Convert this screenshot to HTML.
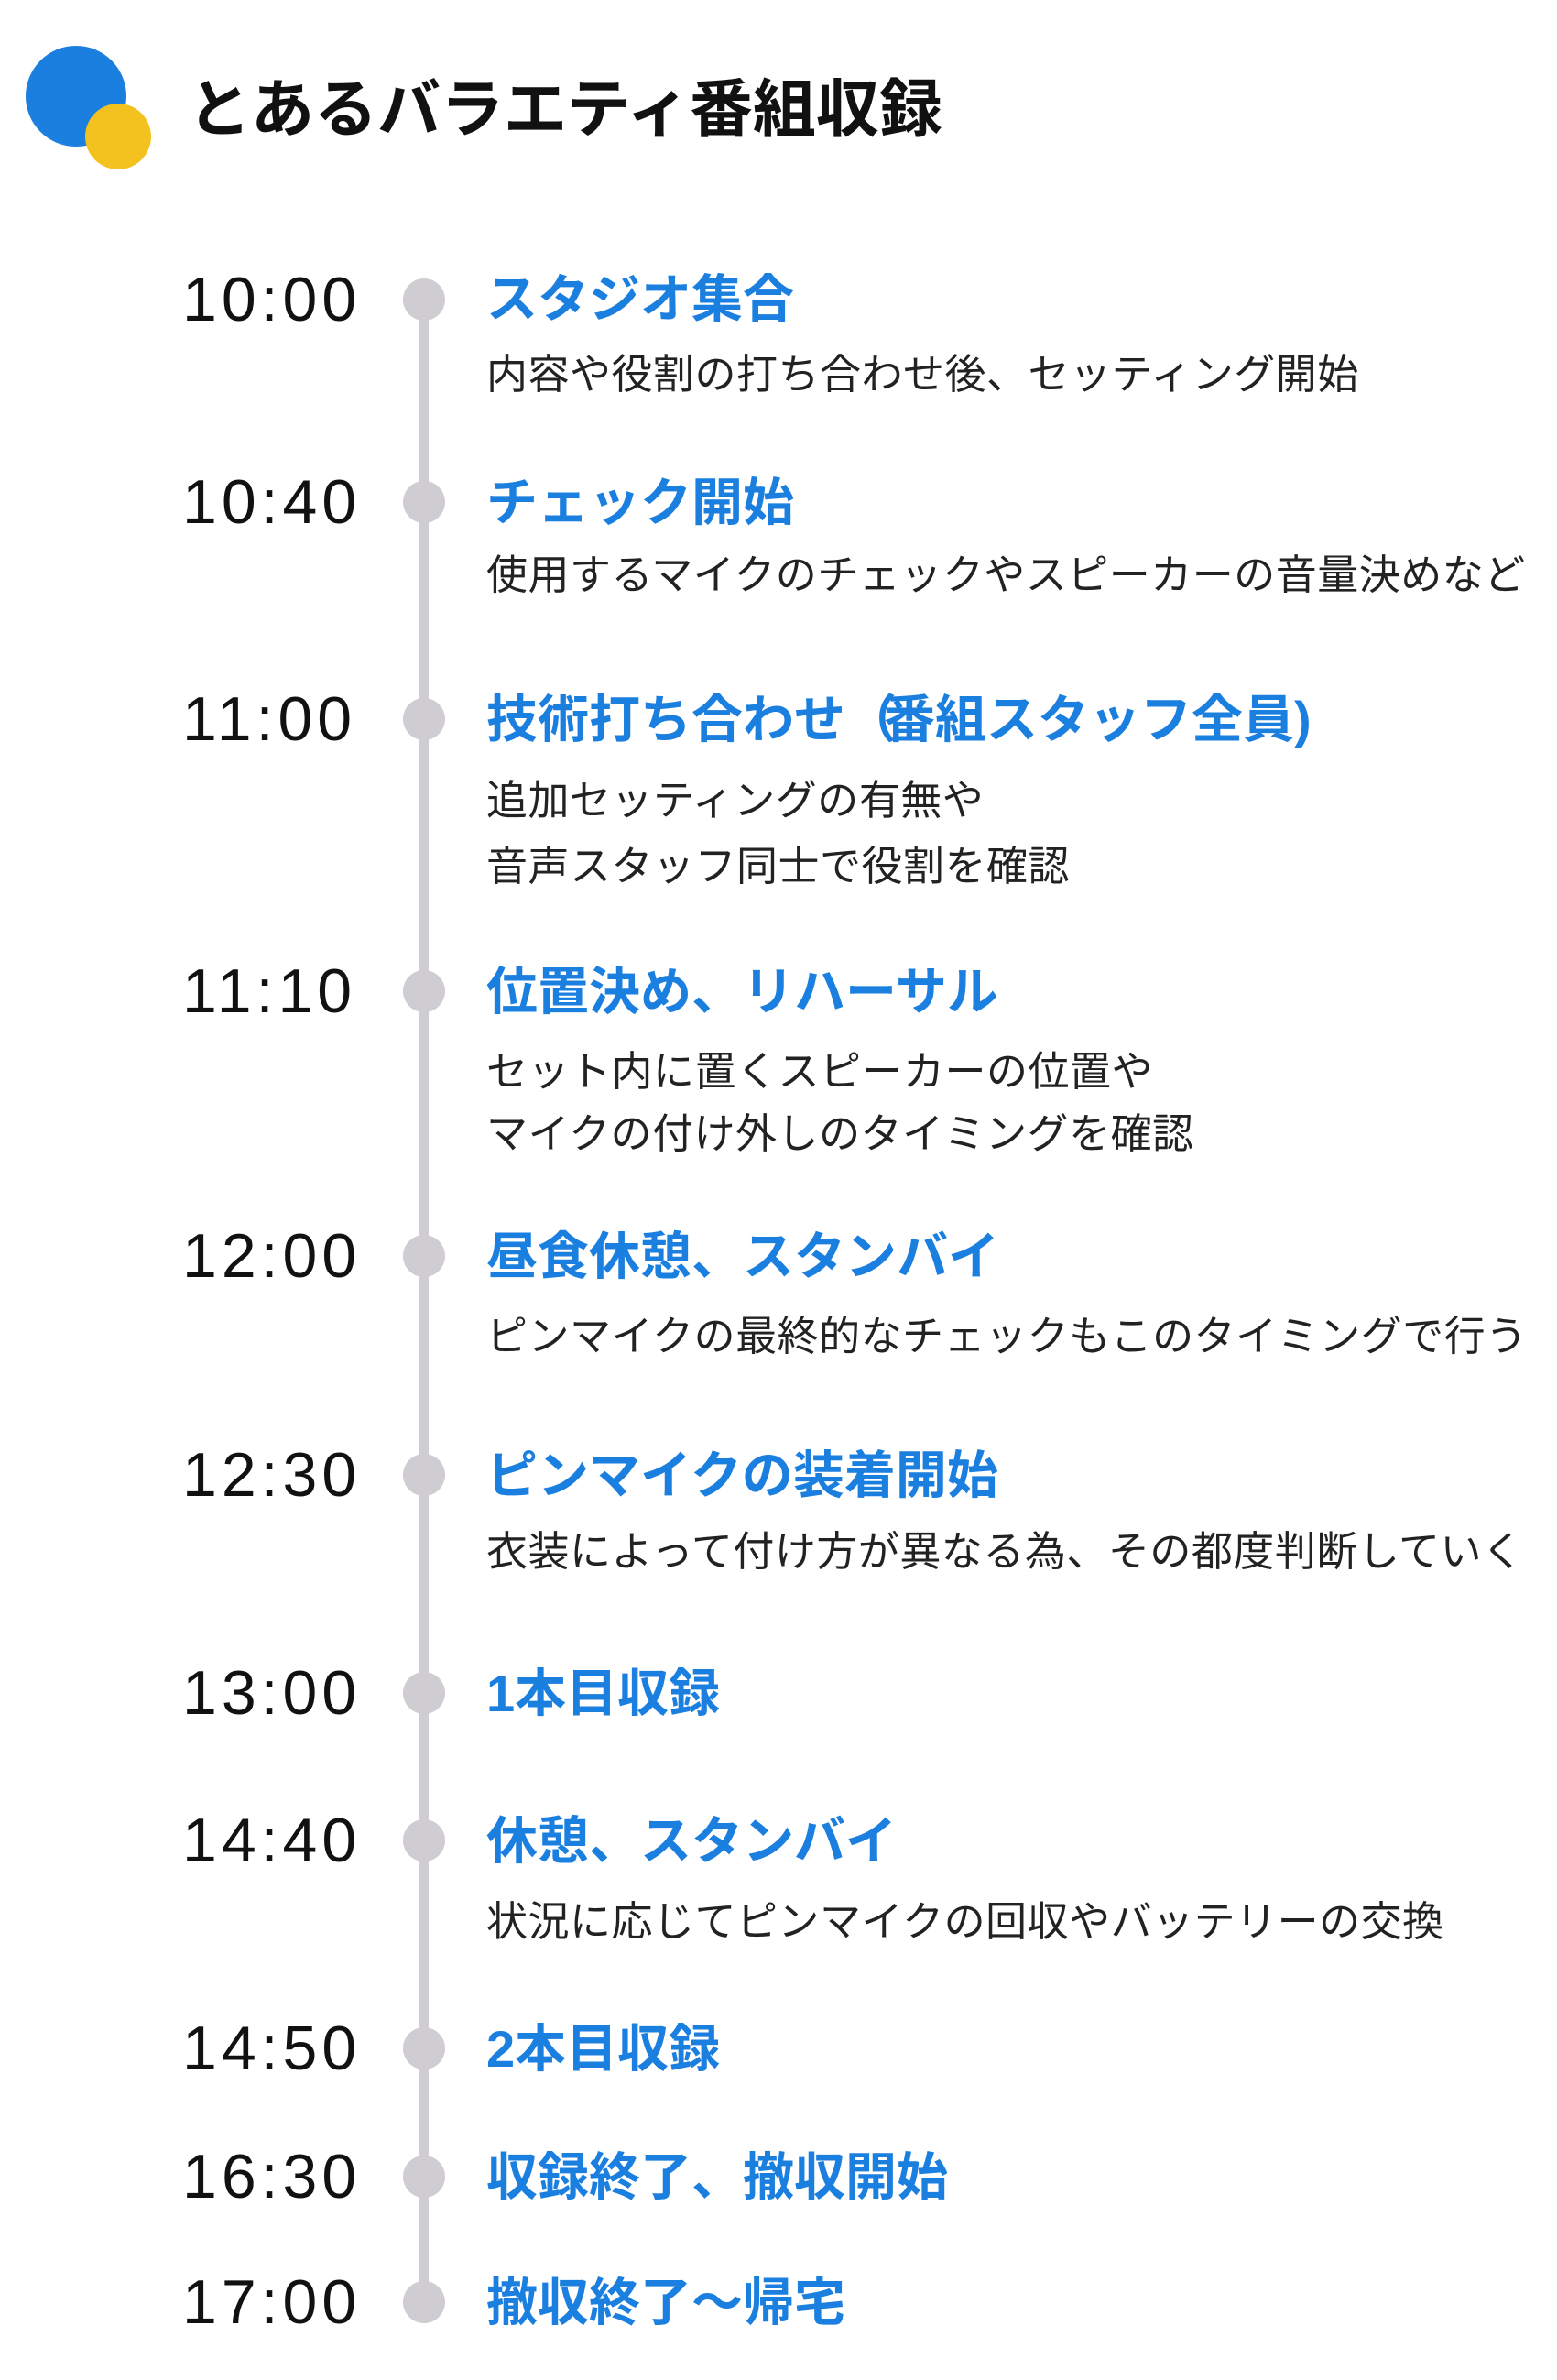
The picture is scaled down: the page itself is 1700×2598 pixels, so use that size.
<!DOCTYPE html>
<html><head><meta charset="utf-8"><style>
body{margin:0;width:1700px;height:2598px;background:#fff;position:relative;overflow:hidden;font-family:"Liberation Sans","Noto Sans CJK JP",sans-serif}
.a{position:absolute;white-space:nowrap}
.t{left:199px;font-size:68px;letter-spacing:5px;color:#111;line-height:60px}
.h{left:531px;font-size:56px;font-weight:bold;color:#1a7fdf;line-height:57px}
.d{left:531px;font-size:45px;color:#222;line-height:47px;letter-spacing:0.5px}
.dot{position:absolute;left:440px;width:46px;height:46px;border-radius:50%;background:#cfcdd1}
</style></head><body>
<div class="a" style="left:28px;top:50px;width:110px;height:110px;border-radius:50%;background:#1a7fdf"></div>
<div class="a" style="left:93px;top:113px;width:72px;height:72px;border-radius:50%;background:#f3c21e"></div>
<div class="a" style="left:205px;top:84px;font-size:69px;font-weight:bold;line-height:72px;color:#111">とあるバラエティ番組収録</div>
<div class="a" style="left:458px;top:327px;width:10px;height:2186px;background:#cfcdd1"></div>

<div class="dot" style="top:304px"></div><div class="a t" style="top:297px">10:00</div>
<div class="a h" style="top:298px">スタジオ集合</div>
<div class="a d" style="top:385px">内容や役割の打ち合わせ後、セッティング開始</div>

<div class="dot" style="top:525px"></div><div class="a t" style="top:518px">10:40</div>
<div class="a h" style="top:520px">チェック開始</div>
<div class="a d" style="top:604px">使用するマイクのチェックやスピーカーの音量決めなど</div>

<div class="dot" style="top:762px"></div><div class="a t" style="top:755px">11:00</div>
<div class="a h" style="top:757px">技術打ち合わせ<span style="letter-spacing:-14px">（</span>番組スタッフ全員)</div>
<div class="a d" style="top:850px">追加セッティングの有無や</div>
<div class="a d" style="top:922px">音声スタッフ同士で役割を確認</div>

<div class="dot" style="top:1059px"></div><div class="a t" style="top:1052px">11:10</div>
<div class="a h" style="top:1054px">位置決め、リハーサル</div>
<div class="a d" style="top:1146px">セット内に置くスピーカーの位置や</div>
<div class="a d" style="top:1214px">マイクの付け外しのタイミングを確認</div>

<div class="dot" style="top:1348px"></div><div class="a t" style="top:1341px">12:00</div>
<div class="a h" style="top:1343px">昼食休憩、スタンバイ</div>
<div class="a d" style="top:1435px">ピンマイクの最終的なチェックもこのタイミングで行う</div>

<div class="dot" style="top:1587px"></div><div class="a t" style="top:1580px">12:30</div>
<div class="a h" style="top:1582px">ピンマイクの装着開始</div>
<div class="a d" style="top:1670px">衣装によって付け方が異なる為、その都度判断していく</div>

<div class="dot" style="top:1825px"></div><div class="a t" style="top:1818px">13:00</div>
<div class="a h" style="top:1820px">1本目収録</div>

<div class="dot" style="top:1986px"></div><div class="a t" style="top:1979px">14:40</div>
<div class="a h" style="top:1981px">休憩、スタンバイ</div>
<div class="a d" style="top:2074px">状況に応じてピンマイクの回収やバッテリーの交換</div>

<div class="dot" style="top:2213px"></div><div class="a t" style="top:2206px">14:50</div>
<div class="a h" style="top:2208px">2本目収録</div>

<div class="dot" style="top:2353px"></div><div class="a t" style="top:2346px">16:30</div>
<div class="a h" style="top:2348px">収録終了、撤収開始</div>

<div class="dot" style="top:2490px"></div><div class="a t" style="top:2483px">17:00</div>
<div class="a h" style="top:2485px">撤収終了～帰宅</div>
</body></html>
